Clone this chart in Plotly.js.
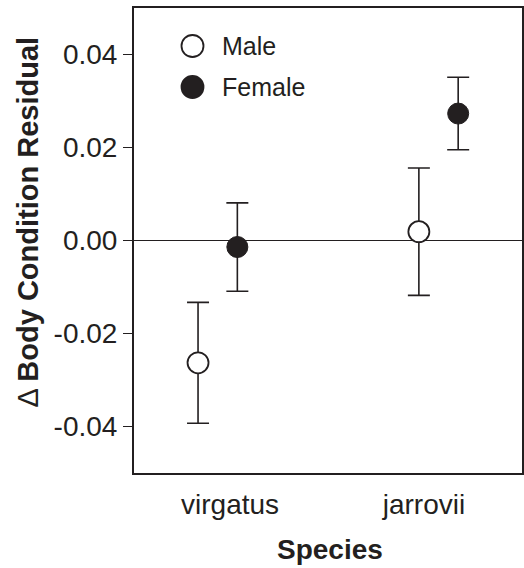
<!DOCTYPE html>
<html>
<head>
<meta charset="utf-8">
<script src="https://cdn.plot.ly/plotly-3.0.1.min.js"></script>
<style>html,body{margin:0;padding:0;background:#fff;}#chart{width:524px;height:568px;}</style>
</head>
<body>
<div id="chart"></div>
<script>
// ---- data ----
const species = ["virgatus", "jarrovii"];
const maleMean = [-0.0263, 0.0019];
const maleErr = [0.0130, 0.0137];
const femaleMean = [-0.0014, 0.0273];
const femaleErr = [0.0095, 0.0078];
const yTickVals = [-0.04, -0.02, 0.00, 0.02, 0.04];
const yTickText = ["-0.04", "-0.02", "0.00", "0.02", "0.04"];

// ---- layout constants ----
const INK = "#231f20";
const FONT = "Liberation Sans, Arial, Helvetica, sans-serif";
const catIndex = species.map((_, i) => i + 1);
const sexOffset = { male: -0.089, female: 0.089 };
const labelNudge = [0.056, -0.066];

const xMale = catIndex.map(c => c + sexOffset.male);
const xFemale = catIndex.map(c => c + sexOffset.female);

const errStyle = (arr) => ({
  type: "data", array: arr, symmetric: true,
  color: INK, thickness: 1.6, width: 11
});

const traces = [
  {
    type: "scatter", mode: "markers", name: "Male",
    x: xMale, y: maleMean, error_y: errStyle(maleErr),
    marker: { symbol: "circle", size: 21, color: "#ffffff", line: { color: INK, width: 1.8 } },
    showlegend: false, hoverinfo: "skip"
  },
  {
    type: "scatter", mode: "markers", name: "Female",
    x: xFemale, y: femaleMean, error_y: errStyle(femaleErr),
    marker: { symbol: "circle", size: 21, color: INK, line: { color: INK, width: 1 } },
    showlegend: false, hoverinfo: "skip"
  }
];

const PLOT_L = 134, PLOT_W = 388, PLOT_T = 8, PLOT_H = 465;
const px2paperX = (px) => (px - PLOT_L) / PLOT_W;
const px2paperY = (py) => (PLOT_T + PLOT_H - py) / PLOT_H;

const legendRows = [
  { label: "Male", fill: "#ffffff", y: 46 },
  { label: "Female", fill: INK, y: 87 }
];

const shapes = legendRows.map(r => ({
  type: "circle", xref: "paper", yref: "paper",
  xsizemode: "pixel", ysizemode: "pixel",
  xanchor: px2paperX(192.5), yanchor: px2paperY(r.y),
  x0: -11, x1: 11, y0: -11, y1: 11,
  fillcolor: r.fill, line: { color: INK, width: 1.8 }
}));

const annotations = legendRows.map(r => ({
  xref: "paper", yref: "paper",
  x: px2paperX(220), y: px2paperY(r.y),
  xanchor: "left", yanchor: "middle",
  text: r.label, showarrow: false,
  font: { family: FONT, size: 25, color: INK }
}));

annotations.push({
  xref: "paper", yref: "paper",
  x: px2paperX(27), y: px2paperY(222.5),
  xanchor: "center", yanchor: "middle", textangle: -90,
  text: "Δ <b>Body Condition Residual</b>", showarrow: false,
  font: { family: FONT, size: 29, color: INK }
});
annotations.push({
  xref: "paper", yref: "paper",
  x: px2paperX(330), y: px2paperY(549),
  xanchor: "center", yanchor: "middle",
  text: "<b>Species</b>", showarrow: false,
  font: { family: FONT, size: 28, color: INK }
});

const layout = {
  width: 524, height: 568,
  margin: { l: PLOT_L, r: 524 - PLOT_L - PLOT_W, t: PLOT_T, b: 568 - PLOT_T - PLOT_H, pad: 0 },
  paper_bgcolor: "#ffffff", plot_bgcolor: "#ffffff",
  showlegend: false,
  font: { family: FONT, color: INK },
  xaxis: {
    range: [0.621, 2.378],
    tickmode: "array",
    tickvals: catIndex.map((c, i) => c + labelNudge[i]),
    ticktext: species,
    ticks: "", showgrid: false, zeroline: false,
    showline: true, mirror: true, linecolor: INK, linewidth: 2,
    tickfont: { family: FONT, size: 28, color: INK },
    ticklabelstandoff: 5
  },
  yaxis: {
    range: [-0.05, 0.05],
    tickmode: "array", tickvals: yTickVals, ticktext: yTickText,
    ticks: "outside", ticklen: 9, tickwidth: 1.6, tickcolor: INK,
    showgrid: false,
    zeroline: true, zerolinecolor: INK, zerolinewidth: 1.6,
    showline: true, mirror: true, linecolor: INK, linewidth: 2,
    tickfont: { family: FONT, size: 28, color: INK }
  },
  shapes: shapes,
  annotations: annotations
};

Plotly.newPlot("chart", traces, layout, { staticPlot: true, displayModeBar: false });
</script>
</body>
</html>
